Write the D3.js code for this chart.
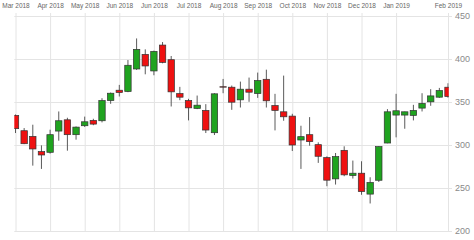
<!DOCTYPE html>
<html>
<head>
<meta charset="utf-8">
<script src="https://cdn.jsdelivr.net/npm/d3@7"></script>
<style>
  body { margin: 0; background: #fff; }
  svg { display: block; font-family: "Liberation Sans", Arial, sans-serif; }
</style>
</head>
<body>
<div id="chart"></div>
<script>
// weekly candles, Mar 2018 - Feb 2019
const open  = [334.4, 316.6, 310, 292.3, 291.5, 316.2, 329.3, 312, 322.4, 328.6,
               328.2, 351.7, 363.7, 362.2, 388.4, 405.4, 386.1, 416.2, 399.2, 359.8,
               351.7, 342.5, 340.2, 314.3, 367.8, 367.2, 352.5, 364.9, 359.8, 376.4,
               345.9, 338.6, 333.6, 305.8, 312, 300.4, 285.3, 260.6, 293.8, 264.5,
               267.2, 242.9, 259, 302.3, 334.8, 334.8, 334.4, 342.9, 350.2, 355.6, 367.2];
const high  = [335.5, 319.7, 323.6, 299.6, 317.8, 339, 331.7, 321.6, 333, 330.5,
               354.4, 361, 369.9, 398.8, 423.9, 411.2, 409.7, 419.7, 403.5, 367.6,
               353.7, 357.5, 347.5, 360.2, 376.8, 369.1, 373.7, 378.4, 384.2, 387.6,
               359.5, 380.7, 336.3, 322.4, 332.4, 303.1, 286.8, 290.7, 298.5, 281.9,
               281.1, 262.5, 298.5, 341.7, 359.5, 338.8, 346.7, 360.2, 364.9, 366.4, 371.8];
const low   = [313.9, 301, 276, 272.2, 290, 305, 293.4, 306.2, 321, 323,
               326.3, 347.9, 356.4, 361.4, 387.3, 382.2, 381.1, 395, 344.8, 352.1,
               328.6, 341.7, 313.9, 311.6, 360.2, 340.9, 343.6, 350.2, 354.8, 343.6,
               317, 328.2, 293, 272.2, 299.2, 279.2, 252.1, 254, 263.7, 261,
               242.1, 232, 257, 302, 308.9, 318.9, 328.6, 339, 345.6, 354.8, 355];
const close = [319, 301.5, 295.4, 288.4, 312, 328.2, 312, 320.8, 327, 324.3,
               351.7, 360.2, 361, 392.7, 411.2, 391.9, 408.9, 396.1, 361.8, 355.6,
               343.2, 346.3, 317.4, 359.5, 367.5, 349.8, 364.9, 361.4, 374.9, 351.4,
               340.2, 332.8, 300, 309.7, 303.9, 286.9, 259.1, 286.5, 265.3, 267.2,
               245.9, 256.4, 298.1, 338.6, 339.8, 338.6, 340.2, 348.3, 357.1, 363.3, 356.4];

const tickIdx    = [0, 4, 8, 12, 16, 20, 24, 28, 32, 36, 40, 44, 50];
const tickLabels = ["Mar 2018", "Apr 2018", "May 2018", "Jun 2018", "Jun 2018", "Jul 2018",
                    "Aug 2018", "Sep 2018", "Oct 2018", "Nov 2018", "Dec 2018", "Jan 2019", "Feb 2019"];
const yTicks = [200, 250, 300, 350, 400, 450];

const W = 474, H = 240;
const plotL = 14.3, plotR = 448.7, plotT = 13, plotB = 231;

const data = open.map((o, i) => ({ i, o, h: high[i], l: low[i], c: close[i] }));

const x = d3.scaleLinear().domain([0, open.length - 1]).range([15.5, 448]);
const y = d3.scaleLinear().domain([200, 450]).range([231, 16]);

const svg = d3.select("#chart").append("svg")
    .attr("width", W)
    .attr("height", H);

svg.append("defs").append("clipPath").attr("id", "plot")
    .append("rect")
    .attr("x", plotL).attr("y", plotT)
    .attr("width", plotR - plotL).attr("height", plotB - plotT);

// horizontal grid
svg.append("g")
    .attr("transform", `translate(${plotL},0)`)
    .call(d3.axisRight(y).tickValues(yTicks).tickSize(452 - plotL).tickFormat(""))
    .call(g => g.select(".domain").remove())
    .call(g => g.selectAll("line").attr("stroke", "#e4e4e4"));

// vertical grid
svg.append("g")
    .attr("transform", `translate(0,${plotT})`)
    .call(d3.axisBottom(x).tickValues(tickIdx).tickSize(plotB - plotT).tickFormat(""))
    .call(g => g.select(".domain").remove())
    .call(g => g.selectAll("line").attr("stroke", "#e4e4e4"));

// top labels
svg.append("g")
    .attr("transform", "translate(0,8)")
    .call(d3.axisTop(x).tickValues(tickIdx).tickSize(0).tickPadding(0)
        .tickFormat((d, k) => tickLabels[k]))
    .call(g => g.select(".domain").remove())
    .call(g => g.selectAll("text")
        .attr("fill", "#666")
        .style("font-size", "6.5px")
        .style("font-family", "'Liberation Sans', Arial, sans-serif"));

// right labels
svg.append("g")
    .attr("transform", "translate(455,0)")
    .call(d3.axisRight(y).tickValues(yTicks).tickSize(0).tickPadding(0))
    .call(g => g.select(".domain").remove())
    .call(g => g.selectAll("text")
        .attr("fill", "#8a8a8a")
        .style("font-size", "9px")
        .style("font-family", "'Liberation Sans', Arial, sans-serif"));

const plot = svg.append("g").attr("clip-path", "url(#plot)");
const bw = 6.4;

plot.selectAll("line.wick")
    .data(data)
    .enter().append("line")
    .attr("class", "wick")
    .attr("x1", d => x(d.i)).attr("x2", d => x(d.i))
    .attr("y1", d => y(d.h)).attr("y2", d => y(d.l))
    .attr("stroke", "#5a5a5a")
    .attr("stroke-width", 1);

plot.selectAll("rect.body")
    .data(data)
    .enter().append("rect")
    .attr("class", "body")
    .attr("x", d => x(d.i) - bw / 2)
    .attr("width", bw)
    .attr("y", d => y(Math.max(d.o, d.c)))
    .attr("height", d => Math.max(0.5, Math.abs(y(d.o) - y(d.c))))
    .attr("fill", d => d.c >= d.o ? "#1fa31f" : "#ee1111")
    .attr("stroke", "#333")
    .attr("stroke-width", 0.7);
</script>
</body>
</html>
